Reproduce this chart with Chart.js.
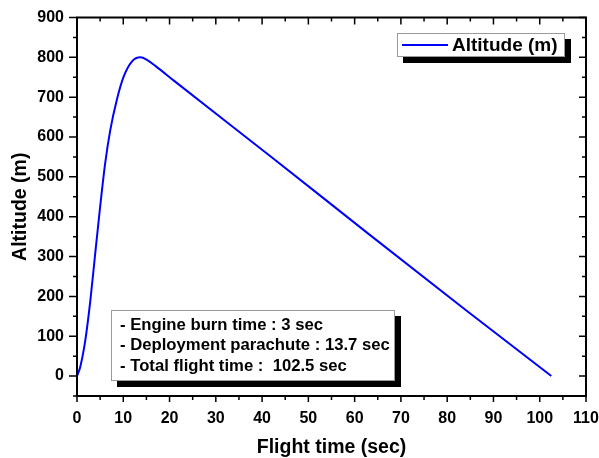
<!DOCTYPE html>
<html>
<head>
<meta charset="utf-8">
<script src="https://cdn.jsdelivr.net/npm/chart.js@4.4.1/dist/chart.umd.min.js"></script>
<style>
  html, body { margin: 0; padding: 0; background: #ffffff; }
  #wrap { width: 599px; height: 458px; }
</style>
</head>
<body>
<div id="wrap"><canvas id="altitudeChart" width="599" height="458"></canvas></div>
<script>
const timeSec = [0, 0.7, 1.8, 2.9, 3.95, 5.0, 6.1, 7.2, 8.6, 10.1, 11.9, 13.7, 15.2, 17, 21, 42, 63, 84, 102.5];
const altitudeM = [0, 23, 90, 191, 309, 425, 535, 618, 693, 752, 790, 800, 793, 778, 741, 550, 357, 166, 0];

const xTicks = [0, 10, 20, 30, 40, 50, 60, 70, 80, 90, 100, 110];
const yTicks = [0, 100, 200, 300, 400, 500, 600, 700, 800, 900];

const noteLines = [
  "- Engine burn time : 3 sec",
  "- Deployment parachute : 13.7 sec",
  "- Total flight time :  102.5 sec",
];

const fontFamily = "'Liberation Sans', Arial, sans-serif";
const lineColor = "#0000ff";

// frame, tick marks, legend and note box
const decorPlugin = {
  id: "decor",
  afterDraw(chart) {
    const ctx = chart.ctx;
    const area = chart.chartArea;
    const x = chart.scales.x;
    const y = chart.scales.y;

    ctx.save();
    ctx.strokeStyle = "#000000";
    ctx.lineWidth = 1.5;

    for (let v = 0; v <= 110; v += 5) {
      const px = x.getPixelForValue(v);
      const major = v % 10 === 0;
      ctx.beginPath();
      ctx.moveTo(px, area.bottom);
      ctx.lineTo(px, area.bottom + (major ? 6 : 4));
      ctx.moveTo(px, area.top);
      ctx.lineTo(px, area.top + (major ? 7 : 4));
      ctx.stroke();
    }

    for (let v = -50; v <= 900; v += 50) {
      const py = y.getPixelForValue(v);
      const major = v % 100 === 0;
      ctx.beginPath();
      ctx.moveTo(area.left, py);
      ctx.lineTo(area.left - (major ? 8 : 4), py);
      ctx.moveTo(area.right, py);
      ctx.lineTo(area.right - (major ? 7 : 4), py);
      ctx.stroke();
    }

    ctx.lineWidth = 2;
    ctx.strokeRect(area.left, area.top, area.right - area.left, area.bottom - area.top);

    // legend
    ctx.fillStyle = "#000000";
    ctx.fillRect(403, 39, 168, 24);
    ctx.fillStyle = "#ffffff";
    ctx.fillRect(397, 33, 168, 24);
    ctx.strokeStyle = "#9a9a9a";
    ctx.lineWidth = 1;
    ctx.strokeRect(397.5, 33.5, 167, 23);
    ctx.strokeStyle = lineColor;
    ctx.lineWidth = 2;
    ctx.beginPath();
    ctx.moveTo(402, 45);
    ctx.lineTo(448, 45);
    ctx.stroke();
    ctx.fillStyle = "#000000";
    ctx.font = "bold 19px " + fontFamily;
    ctx.textBaseline = "middle";
    ctx.textAlign = "left";
    ctx.fillText(chart.data.datasets[0].label, 452, 46);

    // note box
    ctx.fillStyle = "#000000";
    ctx.fillRect(117, 316, 284, 71);
    ctx.fillStyle = "#ffffff";
    ctx.fillRect(111, 310, 284, 71);
    ctx.strokeStyle = "#9a9a9a";
    ctx.lineWidth = 1;
    ctx.strokeRect(111.5, 310.5, 283, 70);
    ctx.fillStyle = "#000000";
    ctx.font = "bold 16.7px " + fontFamily;
    noteLines.forEach((line, i) => {
      ctx.fillText(line, 120, 325 + i * 20.7);
    });

    ctx.restore();
  },
};

const canvas = document.getElementById("altitudeChart");

new Chart(canvas, {
  type: "line",
  data: {
    datasets: [
      {
        label: "Altitude (m)",
        data: timeSec.map((t, i) => ({ x: t, y: altitudeM[i] })),
        borderColor: lineColor,
        borderWidth: 2,
        pointRadius: 0,
        fill: false,
        cubicInterpolationMode: "monotone",
      },
    ],
  },
  options: {
    responsive: false,
    animation: false,
    layout: {
      padding: { top: 17.5, right: 13, left: 0, bottom: 0 },
    },
    plugins: {
      legend: { display: false },
      tooltip: { enabled: false },
    },
    scales: {
      x: {
        type: "linear",
        min: 0,
        max: 110,
        afterBuildTicks: (scale) => {
          scale.ticks = xTicks.map((v) => ({ value: v }));
        },
        afterFit: (scale) => {
          scale.height = 62;
          scale.paddingLeft = 0;
          scale.paddingRight = 0;
        },
        grid: { display: false, drawTicks: false },
        border: { display: false },
        ticks: {
          padding: 13,
          color: "#000000",
          maxRotation: 0,
          font: { family: fontFamily, size: 16, weight: "bold" },
        },
        title: {
          display: true,
          text: "Flight time (sec)",
          color: "#000000",
          padding: { top: 0, bottom: 0.5 },
          font: { family: fontFamily, size: 19.5, weight: "bold", lineHeight: 1 },
        },
      },
      y: {
        type: "linear",
        min: -50,
        max: 900,
        afterBuildTicks: (scale) => {
          scale.ticks = yTicks.map((v) => ({ value: v }));
        },
        afterFit: (scale) => {
          scale.width = 77;
          scale.paddingTop = 0;
          scale.paddingBottom = 0;
        },
        grid: { display: false, drawTicks: false },
        border: { display: false },
        ticks: {
          padding: 13,
          color: "#000000",
          font: { family: fontFamily, size: 16, weight: "bold" },
        },
        title: {
          display: true,
          text: "Altitude (m)",
          color: "#000000",
          padding: { top: 10.5, bottom: 0 },
          font: { family: fontFamily, size: 19.5, weight: "bold", lineHeight: 1 },
        },
      },
    },
  },
  plugins: [decorPlugin],
});
</script>
</body>
</html>
